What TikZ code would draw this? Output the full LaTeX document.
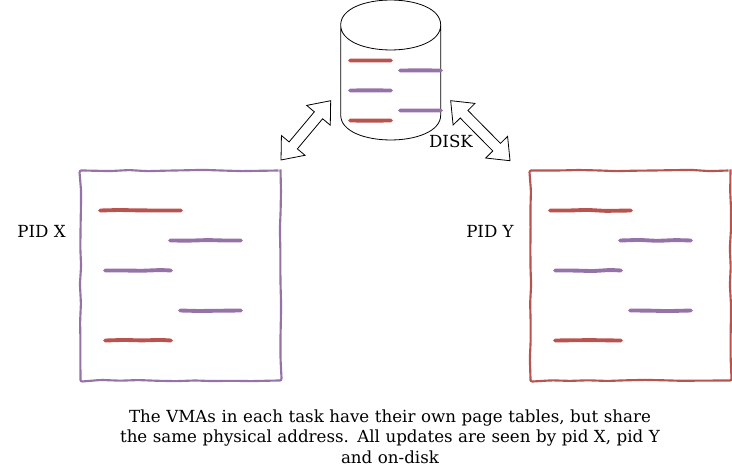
\documentclass[tikz,border=0pt]{standalone}
\usepackage{fontspec}
\setmainfont{DejaVu Serif}
\usetikzlibrary{shapes.arrows,decorations.pathmorphing}

\definecolor{vmared}{HTML}{B85450}
\definecolor{vmapurple}{HTML}{9673A6}

\begin{document}
\begin{tikzpicture}[x=.75pt,y=-.75pt,
   wobbly/.style={decorate,decoration={random steps,segment length=14pt,amplitude=.5pt},rounded corners=1.5pt},
   pidbox/.style={draw=#1,line width=1.6pt,wobbly,rectangle,minimum width=150pt,minimum height=157.5pt,inner sep=0pt},
   vma/.style={draw=#1,line width=2.9pt,line cap=round,wobbly},
   label/.style={font=\fontsize{12.5}{15.4}\selectfont},
   diskarrow/.style={draw,fill=white,double arrow,sloped,inner sep=0pt,inner ysep=3.75pt,line width=.6pt,
     double arrow head extend=7.5pt,double arrow tip angle=78,minimum height=#1,minimum width=23pt,anchor=center}]
\pgfmathsetseed{12}
\useasboundingbox (0,0) rectangle (732,471);

\node[pidbox=vmapurple] (pidx) at (180.5,275.5) {};
\node[pidbox=vmared] (pidy) at (630.5,275.5) {};

% disk
\draw[line width=.6pt] (340.7,25) .. controls (340.7,-8.3) and (440.7,-8.3) .. (440.7,25)
   .. controls (440.7,58.3) and (340.7,58.3) .. (340.7,25) -- (340.7,115)
   .. controls (340.7,148.3) and (440.7,148.3) .. (440.7,115) -- (440.7,25);

\foreach \dx in {0,450} {
  \draw[vma=vmared] (100+\dx,210.5) -- (181+\dx,210.5);
  \draw[vma=vmapurple] (170+\dx,240.5) -- (241+\dx,240.5);
  \draw[vma=vmapurple] (105+\dx,270.5) -- (171+\dx,270.5);
  \draw[vma=vmapurple] (180+\dx,310.5) -- (241+\dx,310.5);
  \draw[vma=vmared] (105+\dx,340.5) -- (171+\dx,340.5);
}

\draw[vma=vmared,decoration={amplitude=.2pt}] (350,60.5) -- (391,60.5);
\draw[vma=vmapurple,decoration={amplitude=.2pt}] (400,70.5) -- (441,70.5);
\draw[vma=vmapurple,decoration={amplitude=.2pt}] (350,90.5) -- (391,90.5);
\draw[vma=vmapurple,decoration={amplitude=.2pt}] (400,110.5) -- (441,110.5);
\draw[vma=vmared,decoration={amplitude=.2pt}] (350,120.5) -- (391,120.5);

\coordinate (xend) at (281,160);
\coordinate (diskleft) at (330.7,100.7);
\coordinate (diskright) at (450.7,100.7);
\coordinate (yend) at (510,160.7);

\path (xend) -- node[diskarrow=58pt] (arrowx) {} (diskleft);
\path (diskright) -- node[diskarrow=63.3pt] (arrowy) {} (yend);

\node[label] (disklabel) at (451,141.5) {DISK};
\node[label] (pidxlabel) at (41.5,231.5) {PID X};
\node[label] (pidylabel) at (490,231.5) {PID Y};
\node[label,align=center,text width=440pt] (caption) at (390,436.5)
  {The VMAs in each task have their own page tables, but share\\
   the same physical address. All updates are seen by pid X, pid Y\\
   and on-disk};
\end{tikzpicture}
\end{document}
